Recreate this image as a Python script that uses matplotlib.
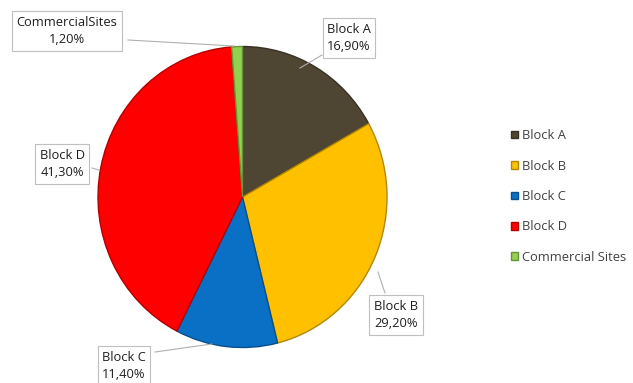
import matplotlib.pyplot as plt
from matplotlib.colors import to_rgb

labels = ["Block A", "Block B", "Block C", "Block D", "Commercial Sites"]
box_names = ["Block A", "Block B", "Block C", "Block D", "CommercialSites"]
shares = [16.9, 29.2, 11.4, 41.3, 1.2]
colors = ["#4e4532", "#ffc000", "#0a70c6", "#ff0000", "#92d050"]

W, H = 633, 383
CX, CY, RX, RY = 242.5, 197, 144.5, 150.5


def px(x, y):
    # pixel position -> data coords of the unit pie
    return (x - CX) / RX, (CY - y) / RY


def darker(c, f=0.7):
    r, g, b = to_rgb(c)
    return (r * f, g * f, b * f)


fig = plt.figure(figsize=(W / 100, H / 100), dpi=100)
ax = fig.add_axes([0, 0, 1, 1])
plt.rcParams["font.family"] = ["Open Sans", "DejaVu Sans"]

wedges, _ = ax.pie(shares, colors=colors, startangle=90, counterclock=False,
                   radius=1, center=(0, 0),
                   wedgeprops=dict(linewidth=1.0))
for w, c in zip(wedges, colors):
    w.set_edgecolor(darker(c))

ax.set_aspect("auto")
x0, y0 = px(0, H)
x1, y1 = px(W, 0)
ax.set_xlim(x0, x1)
ax.set_ylim(y0, y1)
ax.axis("off")

# label box centres and leader end points (pixels)
box_pos = [(349, 38), (396, 315), (124, 366), (62, 164), (67, 31)]
leader = [((322, 55), (300, 68)), ((385, 293), (378, 272)),
          ((155, 352), (212, 344)), ((92, 168), (99, 170)),
          ((128, 40), (234, 46))]

for name, v, (bx, by), (p0, p1) in zip(box_names, shares, box_pos, leader):
    txt = f"{name}\n{v:.2f}%".replace(".", ",")
    ax.plot(*zip(px(*p0), px(*p1)), color="#b0b0b0", lw=0.8, zorder=3)
    ax.text(*px(bx, by), txt, ha="center", va="center", fontsize=9.3,
            color="#1e1e1e", linespacing=1.4, zorder=4,
            bbox=dict(boxstyle="square,pad=0.35", fc="white", ec="#bfbfbf", lw=0.8))

leg = ax.legend(wedges, labels, loc="center left", bbox_to_anchor=(0.797, 0.487),
                bbox_transform=fig.transFigure, frameon=False, fontsize=9.3,
                handlelength=0.55, handleheight=0.55, handletextpad=0.3,
                labelspacing=1.35, borderpad=0)
for t in leg.get_texts():
    t.set_color("#404040")

fig.savefig("out.png", dpi=100)
